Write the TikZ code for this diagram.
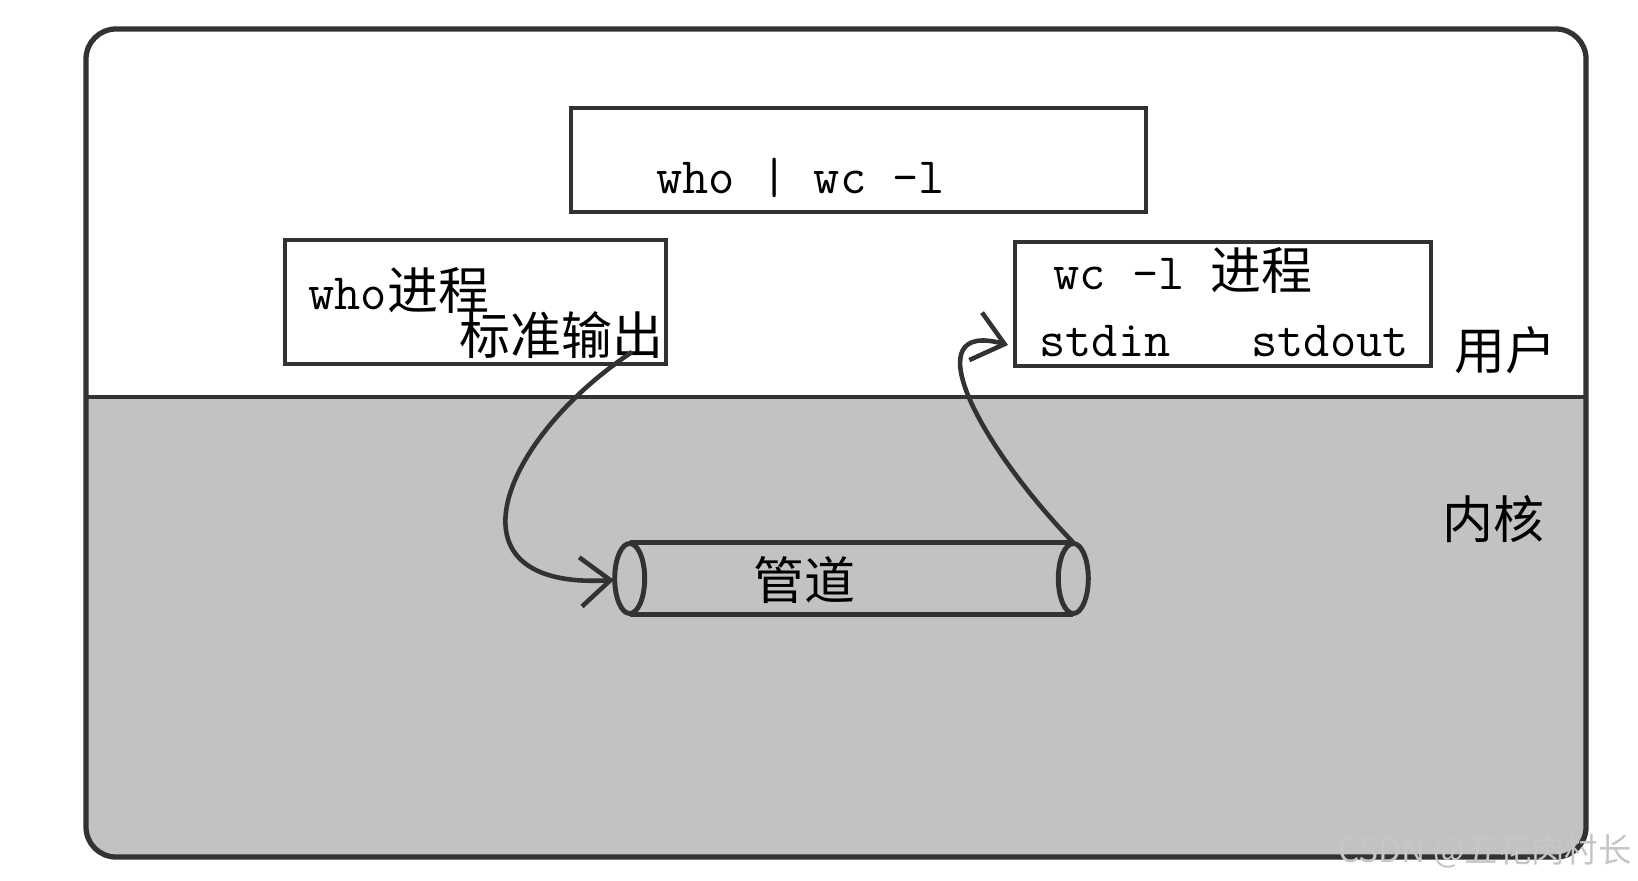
\documentclass[tikz,border=0pt]{standalone}
\usepackage{fontspec}
\usepackage{tikz}
\usetikzlibrary{arrows.meta, positioning}
\newfontfamily\cjk{Noto Sans CJK SC}
\definecolor{kernelgray}{RGB}{194,194,194}
\definecolor{sketchgray}{RGB}{50,50,50}

\begin{document}
\begin{tikzpicture}[
    x=0.02cm, y=-0.02cm,
    proc box/.style={rectangle,draw=sketchgray,fill=white,line width=2.6pt,inner sep=0pt},
    mono text/.style={font=\fontsize{29}{33}\selectfont\ttfamily,inner sep=0pt},
    cn text/.style={font=\fontsize{29}{33}\selectfont\cjk,inner sep=0pt},
    arrow/.style={-{Straight Barb[length=17pt,width=28pt]},draw=sketchgray,line width=2.6pt}
]
\useasboundingbox (0,0) rectangle (1638,881);

% User / kernel frame
\begin{scope}
  \clip[rounded corners=0.6cm] (86,29) rectangle (1586,857);
  \fill[kernelgray] (86,397) rectangle (1586,857);
\end{scope}
\draw[sketchgray,line width=3pt,rounded corners=0.6cm] (86,29) rectangle (1586,857);
\draw[sketchgray,line width=2.8pt] (86,397) -- (1586,397);

% Command line
\node[proc box,minimum width=11.5cm,minimum height=2.08cm] (cmd) at (858.5,160) {};
\node[mono text,anchor=base west] (cmdtext) at (656,194) {who | wc -l};

% who process
\node[proc box,minimum width=7.62cm,minimum height=2.48cm] (whobox) at (475.5,302) {};
\node[mono text,anchor=base west] (whotitle) at (308,310) {who{\cjk 进程}};
\node[cn text,anchor=base east] (whoout) at (664,355) {标准输出};

% wc -l process
\node[proc box,minimum width=8.32cm,minimum height=2.48cm] (wcbox) at (1223,304) {};
\node[mono text,anchor=base west] (wctitle) at (1053,290) {wc -l {\cjk 进程}};
\node[mono text,anchor=base west] (stdin) at (1039,357) {stdin};
\node[mono text,anchor=base west] (stdout) at (1251,357) {stdout};

% Layer labels
\node[cn text] (user) at (1505,350) {用户};
\node[cn text] (kernel) at (1493,519) {内核};

% Pipe
\node[minimum width=8.86cm,minimum height=1.42cm,inner sep=0pt] (pipe) at (851.5,578.5) {};
\draw[sketchgray,line width=2.8pt] (pipe.north west) -- (pipe.north east)
    (pipe.south west) -- (pipe.south east);
\draw[sketchgray,line width=2.8pt] (pipe.west) ellipse (15 and 35);
\draw[sketchgray,line width=2.8pt] (pipe.east) ellipse (15 and 35);
\node[cn text] (pipelabel) at (804,580) {管道};

% Arrows
\coordinate (stdoutpt) at (632,352);
\coordinate (pipein) at (614,580);
\coordinate (stdinpt) at (1008,345);
\draw[arrow] (stdoutpt) .. controls (500,440) and (440,590) .. (pipein);
\draw[arrow] (pipe.north east) .. controls (975,440) and (915,320) .. (stdinpt);

% Watermark
\node[font=\fontsize{19}{22}\selectfont\cjk,text=gray!45,anchor=east,inner sep=0pt] (mark) at (1632,851) {CSDN @五花肉村长};

\end{tikzpicture}
\end{document}
